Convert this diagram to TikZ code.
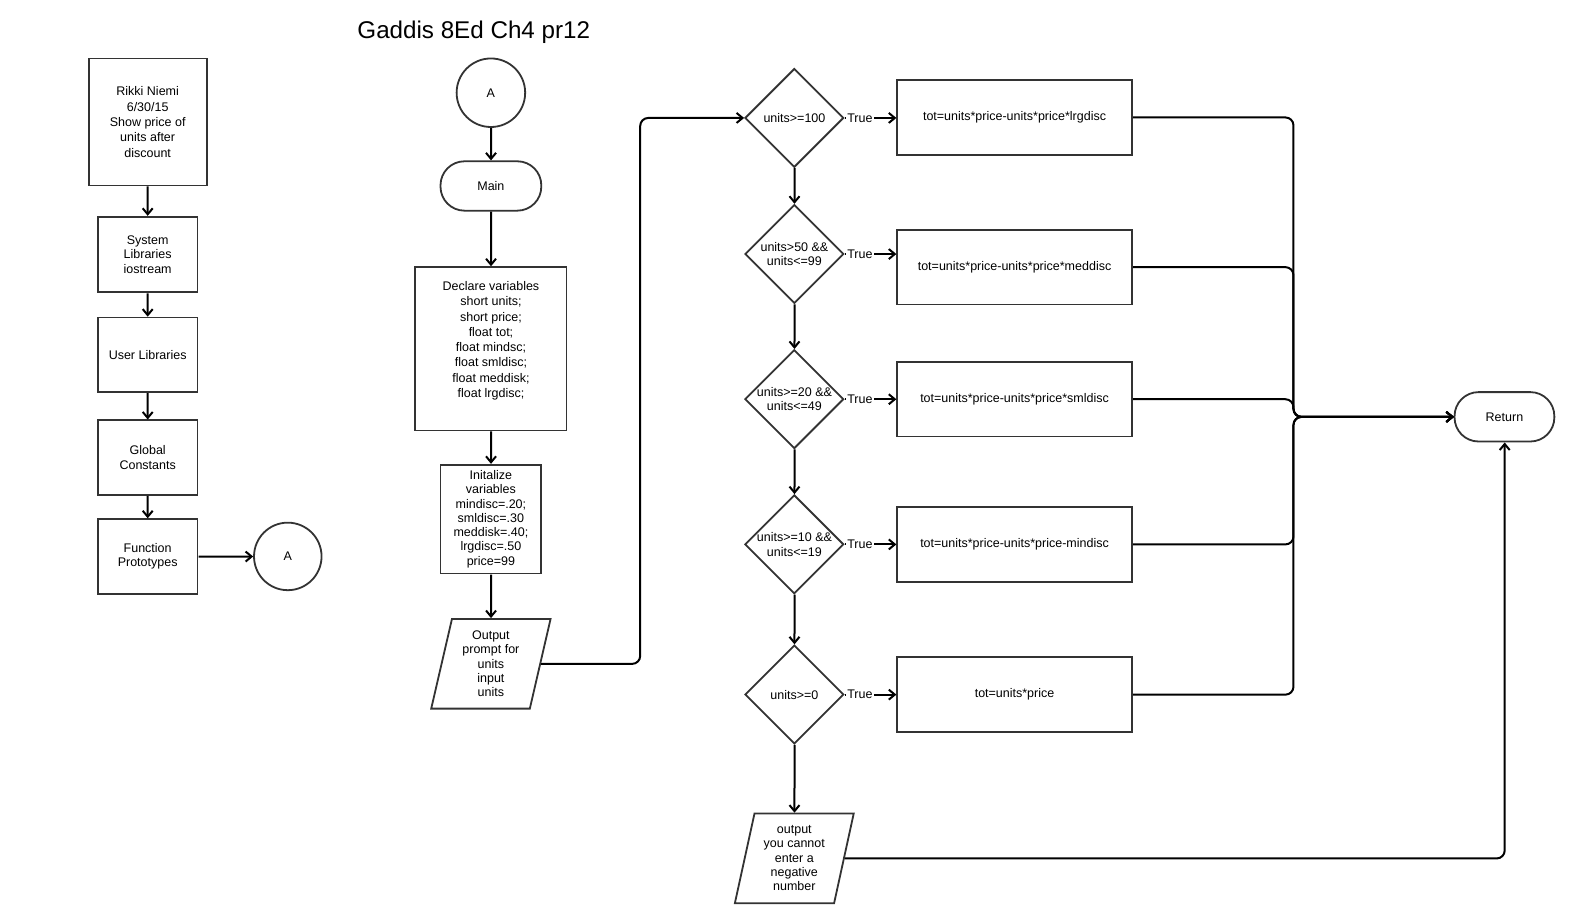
\documentclass[tikz,border=0pt]{standalone}
\usepackage{fontspec}
\setmainfont{Liberation Sans}
\usetikzlibrary{shapes.geometric,shapes.misc,arrows.meta}
\definecolor{bord}{HTML}{333333}
\begin{document}
\begin{tikzpicture}[x=1pt,y=-1pt,scale=1.008,transform shape,
  every node/.style={font=\fontsize{12.4}{14.2}\selectfont},
  box/.style={draw=bord, line width=1.8pt, rectangle, align=center, inner sep=1pt},
  dia/.style={draw=bord, line width=1.8pt, diamond, minimum width=98pt, minimum height=98pt, inner sep=0pt},
  term/.style={draw=bord, line width=1.8pt, rectangle, rounded corners=24pt, minimum width=100pt, minimum height=49pt, align=center},
  conn/.style={draw=bord, line width=1.8pt, circle, inner sep=0pt},
  io/.style={draw=bord, line width=1.8pt, trapezium, trapezium left angle=77, trapezium right angle=103, trapezium stretches=true, minimum width=119pt, minimum height=89pt, align=center, inner sep=1pt},
  arr/.style={line width=2pt, -{Straight Barb[length=6pt,width=10pt]}},
  lnk/.style={rounded corners=8pt},
  tl/.style={pos=0, anchor=west, fill=white, inner sep=1.5pt}
]
\useasboundingbox[fill=white] (0,0) rectangle (1567.46,915.67);

% title
\node[font=\fontsize{24}{28}\selectfont] (title) at (470,32) {Gaddis 8Ed Ch4 pr12};

% left column
\node[box, minimum width=117pt, minimum height=126pt, font=\fontsize{12.4}{15.2}\selectfont] (hdr) at (146.5,121) {Rikki Niemi\\6/30/15\\Show price of\\units after\\discount};
\node[box, minimum width=99pt, minimum height=75pt] (sys) at (146.5,252.5) {System\\Libraries\\iostream};
\node[box, minimum width=99pt, minimum height=74pt] (usr) at (146.5,352) {User Libraries};
\node[box, minimum width=99pt, minimum height=74pt] (glob) at (146.5,454) {Global\\Constants};
\node[box, minimum width=99pt, minimum height=74pt] (proto) at (146.5,552) {Function\\Prototypes};
\node[conn, minimum size=67pt] (a1) at (285.5,552) {A};

\draw[arr] (hdr) -- (sys);
\draw[arr] (sys) -- (usr);
\draw[arr] (usr) -- (glob);
\draw[arr] (glob) -- (proto);
\draw[arr] (proto) -- (a1);

% middle column
\node[conn, minimum size=68pt] (a2) at (487,92) {A};
\node[term] (main) at (487,184.5) {Main};
\node[box, minimum width=150pt, minimum height=162pt,
  label={[align=center, yshift=8pt, font=\fontsize{12.4}{15.2}\selectfont]center:{Declare variables\\short units;\\short price;\\float tot;\\float mindsc;\\float smldisc;\\float meddisk;\\float lrgdisc;}}] (decl) at (487,346) {};
\node[box, minimum width=100pt, minimum height=108pt] (init) at (487,515) {Initalize\\variables\\mindisc=.20;\\smldisc=.30\\meddisk=.40;\\lrgdisc=.50\\price=99};
\node[io] (prompt) at (487,658.5) {Output\\prompt for\\units\\input\\units};

\draw[arr] (a2) -- (main);
\draw[arr] (main) -- (decl);
\draw[arr] (decl) -- (init);
\draw[arr] (init) -- (prompt);

% decisions
\node[dia, label={[align=center]center:{units>=100}}] (d1) at (788,117) {};
\node[dia, label={[align=center]center:{units>50 \&\&\\units<=99}}] (d2) at (788,252) {};
\node[dia, label={[align=center]center:{units>=20 \&\&\\units<=49}}] (d3) at (788,396) {};
\node[dia, label={[align=center]center:{units>=10 \&\&\\units<=19}}] (d4) at (788,540) {};
\node[dia, label={[align=center]center:{units>=0}}] (d5) at (788,689) {};
\node[io] (out) at (788,851.5) {output\\you cannot\\enter a\\negative\\number};

% process boxes
\node[box, minimum width=233pt, minimum height=75pt] (b1) at (1006.5,116.5) {tot=units*price-units*price*lrgdisc};
\node[box, minimum width=233pt, minimum height=74pt] (b2) at (1006.5,265) {tot=units*price-units*price*meddisc};
\node[box, minimum width=233pt, minimum height=74pt] (b3) at (1006.5,396) {tot=units*price-units*price*smldisc};
\node[box, minimum width=233pt, minimum height=74pt] (b4) at (1006.5,540) {tot=units*price-units*price-mindisc};
\node[box, minimum width=233pt, minimum height=74pt] (b5) at (1006.5,689) {tot=units*price};

\node[term, minimum width=99pt] (ret) at (1492.5,413.5) {Return};

% connectors
\coordinate (c1) at (635,117);
\draw[arr, lnk] (prompt.east) -| (c1) -- (d1.west);

\draw[arr] (d1) -- (d2);
\draw[arr] (d2) -- (d3);
\draw[arr] (d3) -- (d4);
\draw[arr] (d4) -- (d5);
\draw[arr] (d5) -- (out);

\draw[arr] (d1.east) -- node[tl]{True} (d1.east -| b1.west);
\draw[arr] (d2.east) -- node[tl]{True} (d2.east -| b2.west);
\draw[arr] (d3.east) -- node[tl]{True} (d3.east -| b3.west);
\draw[arr] (d4.east) -- node[tl]{True} (d4.east -| b4.west);
\draw[arr] (d5.east) -- node[tl]{True} (d5.east -| b5.west);

\coordinate (m) at (1283,413.5);
\draw[arr, lnk] (b1.east) -| (m) -- (ret.west);
\draw[arr, lnk] (b2.east) -| (m) -- (ret.west);
\draw[arr, lnk] (b3.east) -| (m) -- (ret.west);
\draw[arr, lnk] (b4.east) -| (m) -- (ret.west);
\draw[arr, lnk] (b5.east) -| (m) -- (ret.west);

\draw[arr, lnk] (out.east) -| (ret.south);
\end{tikzpicture}
\end{document}
